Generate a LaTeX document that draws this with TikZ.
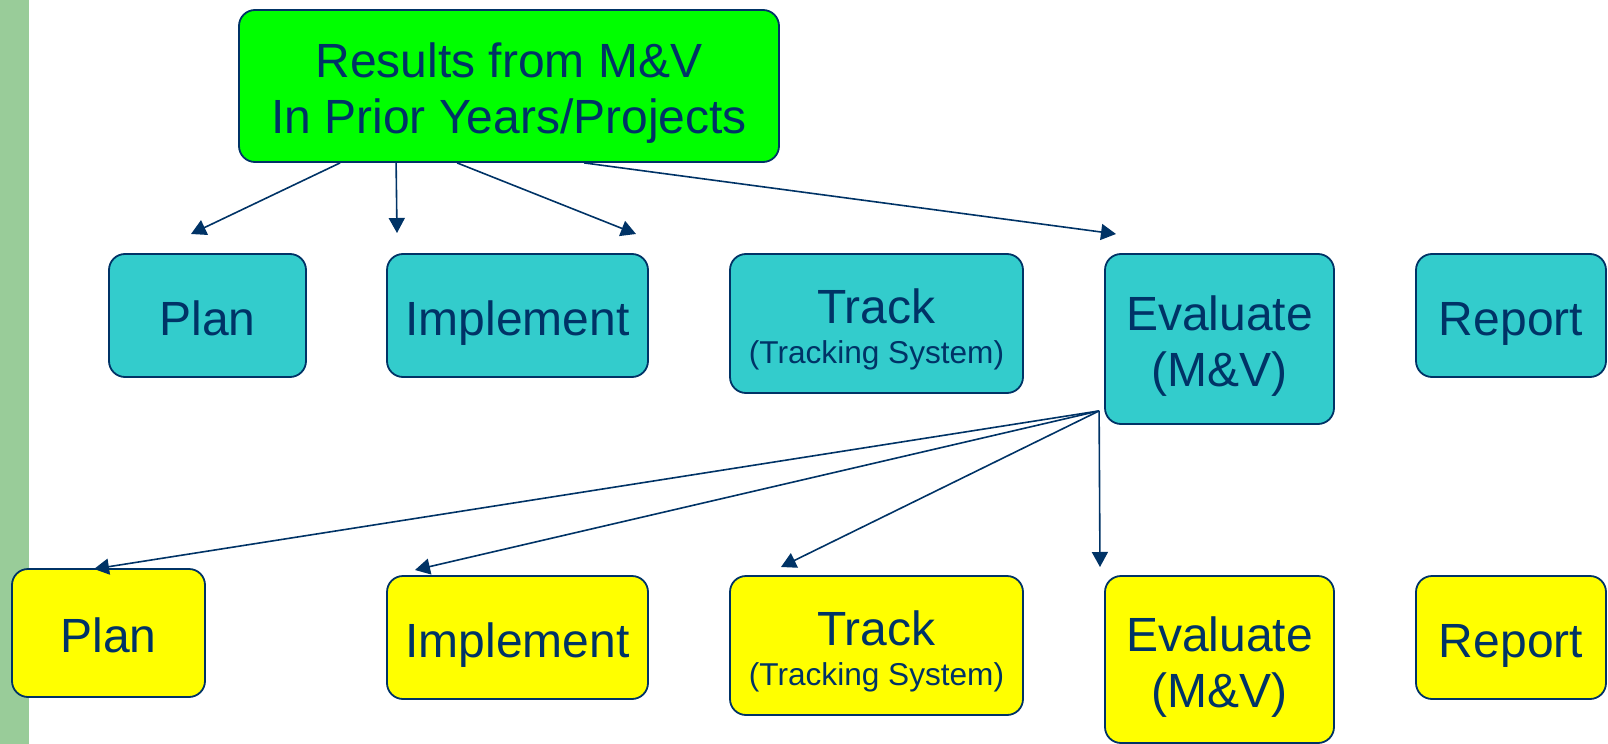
\documentclass[tikz,border=0pt]{standalone}
\usepackage{fontspec}
\setmainfont{Liberation Sans}
\usetikzlibrary{arrows.meta,calc}
\definecolor{navy}{HTML}{003366}
\definecolor{stripgreen}{HTML}{99CC99}
\definecolor{topgreen}{HTML}{00FF00}
\definecolor{cyanbox}{HTML}{33CCCC}
\definecolor{yellowbox}{HTML}{FFFF00}
\newcommand\myline[1]{\raisebox{0pt}[19.5pt][0pt]{#1}}
\newcommand\smalltxt[1]{\myline{\fontsize{15.8}{19}\selectfont #1}}
\begin{document}
\begin{tikzpicture}[x=0.5pt,y=-0.5pt,
  box/.style={draw=navy, line width=0.9pt, rounded corners=8pt, inner sep=0pt,
    align=center, text=navy, font=\fontsize{24}{28}\selectfont},
  cbox/.style={box, fill=cyanbox},
  ybox/.style={box, fill=yellowbox},
  arr/.style={draw=navy, line width=0.8pt, -{Triangle[length=7.5pt,width=8pt]}}]
\useasboundingbox (0,0) rectangle (1608,744);
\fill[stripgreen] (0,0) rectangle (29,744);

\node[box, fill=topgreen, minimum width=270pt, minimum height=76pt] (top) at (509,86)
  {\myline{Results from M\&V}\\\myline{In Prior Years/Projects}};

\node[cbox, minimum width=98.5pt, minimum height=61.5pt] (planA) at (207.5,315.5) {\myline{Plan}};
\node[cbox, minimum width=130.5pt, minimum height=61.5pt] (implA) at (517.5,315.5) {\myline{Implement}};
\node[cbox, minimum width=146.5pt, minimum height=69.5pt] (trackA) at (876.5,323.5)
  {\myline{Track}\\[-8pt]\smalltxt{(Tracking System)}};
\node[cbox, minimum width=114.5pt, minimum height=85pt] (evalA) at (1219.5,339)
  {\myline{Evaluate}\\\myline{(M\&V)}};
\node[cbox, minimum width=95pt, minimum height=61.5pt] (repA) at (1511,315.5) {\myline{Report}};

\node[ybox, minimum width=96.5pt, minimum height=64pt] (planB) at (108.5,633) {\myline{Plan}};
\node[ybox, minimum width=130.5pt, minimum height=61.5pt] (implB) at (517.5,637.5) {\myline{Implement}};
\node[ybox, minimum width=146.5pt, minimum height=69.5pt] (trackB) at (876.5,645.5)
  {\myline{Track}\\[-8pt]\smalltxt{(Tracking System)}};
\node[ybox, minimum width=114.5pt, minimum height=83.5pt] (evalB) at (1219.5,659.5)
  {\myline{Evaluate}\\\myline{(M\&V)}};
\node[ybox, minimum width=95pt, minimum height=61.5pt] (repB) at (1511,637.5) {\myline{Report}};

% arrow ends
\coordinate (t1) at (191,234);
\coordinate (t2) at (397,233);
\coordinate (t3) at (636,234);
\coordinate (t4) at (1116,234);
\coordinate (b1) at (94,569);
\coordinate (b2) at (415,570);
\coordinate (b3) at (781,567);
\coordinate (b4) at (1100,567);
\coordinate (ev) at ($(evalA.south west)+(-5,-14)$);

\draw[arr] ($(top.south west)+(102,0)$) -- (t1);
\draw[arr] ($(top.south west)+(158,0)$) -- (t2);
\draw[arr] ($(top.south west)+(219,0)$) -- (t3);
\draw[arr] ($(top.south west)+(346,0)$) -- (t4);
\draw[arr] (ev) -- (b1);
\draw[arr] (ev) -- (b2);
\draw[arr] (ev) -- (b3);
\draw[arr] (ev) -- (b4);
\end{tikzpicture}
\end{document}
